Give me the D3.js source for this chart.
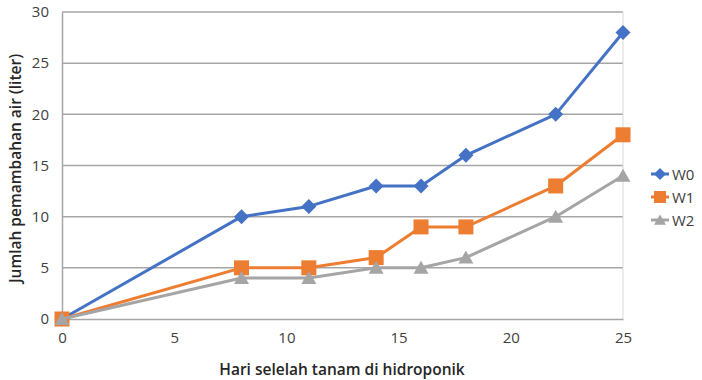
<!DOCTYPE html>
<html>
<head>
<meta charset="utf-8">
<script src="https://cdn.jsdelivr.net/npm/d3@7"></script>
<style>
  html, body { margin: 0; padding: 0; background: #fff; }
  svg { display: block; font-family: "Open Sans", "Noto Sans", sans-serif; }
</style>
</head>
<body>
<svg id="chart" width="702" height="380"></svg>
<script>
// Days after transplanting into the hydroponic system
const days = [0, 8, 11, 14, 16, 18, 22, 25];
// Cumulative water added (liter) per treatment
const w0 = [0, 10, 11, 13, 13, 16, 20, 28];
const w1 = [0, 5, 5, 6, 9, 9, 13, 18];
const w2 = [0, 4, 4, 5, 5, 6, 10, 14];
const seriesNames = ["W0", "W1", "W2"];
const xTicks = [0, 5, 10, 15, 20, 25];
const yTicks = [0, 5, 10, 15, 20, 25, 30];

const colors = ["#4472C4", "#ED7D31", "#A5A5A5"];

// marker shapes: square-diamond, square, triangle
const markerPaths = [
  "M0,-7.5L7.5,0L0,7.5L-7.5,0Z",
  "M-7.5,-7.5H7.5V7.5H-7.5Z",
  "M0,-7L7.5,6H-7.5Z"
];

const svg = d3.select("#chart");
const x = d3.scaleLinear().domain([0, 25]).range([62, 623]);
const y = d3.scaleLinear().domain([0, 30]).range([319, 12]);

// horizontal gridlines
svg.append("g")
  .selectAll("line")
  .data(yTicks.filter(t => t > 0))
  .join("line")
  .attr("x1", x(0)).attr("x2", x(25))
  .attr("y1", d => y(d)).attr("y2", d => y(d))
  .attr("stroke", "#a6a6a6").attr("stroke-width", 1.5);

// right plot border
svg.append("line")
  .attr("x1", x(25)).attr("x2", x(25))
  .attr("y1", y(30)).attr("y2", y(0))
  .attr("stroke", "#d9d9d9").attr("stroke-width", 1);

// axes
const xAxis = svg.append("g")
  .attr("transform", `translate(0,${y(0)})`)
  .call(d3.axisBottom(x).tickValues(xTicks).tickSize(0).tickPadding(13));
xAxis.select(".domain").attr("stroke", "#a6a6a6").attr("stroke-width", 1.5);
xAxis.selectAll("text").attr("font-size", 15).attr("fill", "#404040")
  .attr("font-family", "Open Sans, sans-serif");

const yAxis = svg.append("g")
  .attr("transform", `translate(${x(0)},0)`)
  .call(d3.axisLeft(y).tickValues(yTicks).tickSize(0).tickPadding(13));
yAxis.select(".domain").attr("stroke", "#a6a6a6").attr("stroke-width", 1.5);
yAxis.selectAll("text").attr("font-size", 15).attr("fill", "#404040")
  .attr("font-family", "Open Sans, sans-serif");

// axis titles
svg.append("text")
  .attr("x", 342).attr("y", 375)
  .attr("text-anchor", "middle")
  .attr("font-size", 15.5).attr("font-weight", 600).attr("fill", "#262626")
  .text("Hari selelah tanam di hidroponik");

svg.append("text")
  .attr("transform", `translate(21,${y(15) + 3}) rotate(-90)`)
  .attr("text-anchor", "middle")
  .attr("font-size", 15.5).attr("font-weight", 600).attr("fill", "#262626")
  .text("Jumlah pemambahan air (liter)");

// series, drawn in order so later series sit on top
const allSeries = [w0, w1, w2];
const line = d3.line().x((d, i) => x(days[i])).y(d => y(d));

allSeries.forEach((values, s) => {
  const g = svg.append("g");
  g.append("path")
    .datum(values)
    .attr("d", line)
    .attr("fill", "none")
    .attr("stroke", colors[s])
    .attr("stroke-width", 3)
    .attr("stroke-linejoin", "round");
  g.selectAll("path.mark")
    .data(values)
    .join("path")
    .attr("class", "mark")
    .attr("transform", (d, i) => `translate(${x(days[i])},${y(d)})`)
    .attr("d", markerPaths[s])
    .attr("fill", colors[s]);
});

// legend
const legend = svg.append("g");
seriesNames.forEach((name, i) => {
  const ly = 174 + i * 23;
  legend.append("line")
    .attr("x1", 651).attr("x2", 669)
    .attr("y1", ly).attr("y2", ly)
    .attr("stroke", colors[i]).attr("stroke-width", 3);
  legend.append("path")
    .attr("transform", `translate(660,${ly}) scale(0.8)`)
    .attr("d", markerPaths[i])
    .attr("fill", colors[i]);
  legend.append("text")
    .attr("x", 672).attr("y", ly + 5.5)
    .attr("font-size", 15).attr("fill", "#404040")
    .text(name);
});
</script>
</body>
</html>
